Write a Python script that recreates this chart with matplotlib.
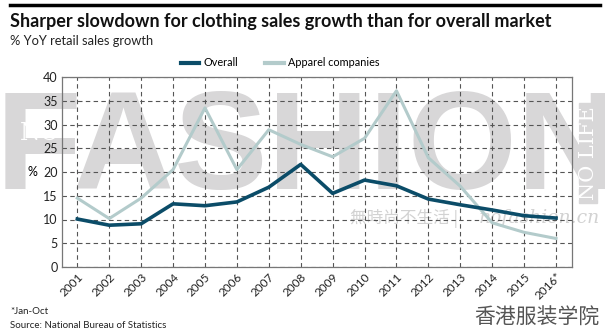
import matplotlib
matplotlib.use("Agg")
import matplotlib.pyplot as plt
from matplotlib.lines import Line2D
from matplotlib.patches import Rectangle

years = list(range(2001, 2017))
year_labels = [str(y) for y in years[:-1]] + ["2016*"]
overall = [10.1, 8.8, 9.1, 13.3, 12.9, 13.7, 16.8, 21.6, 15.5, 18.3,
           17.1, 14.3, 13.1, 12.0, 10.8, 10.3]
apparel = [14.5, 10.2, 14.5, 20.5, 33.5, 20.5, 28.9, 25.8, 23.2, 27.1,
           37.1, 23.0, 17.0, 9.3, 7.3, 6.0]

C_OVERALL = "#0b4c68"
C_APPAREL = "#b3cbcb"
WM = "#d8d7d8"

plt.rcParams["font.family"] = ["Lato", "DejaVu Sans"]

fig = plt.figure(figsize=(6.05, 3.36), dpi=100)
W, H = 605, 336

# watermark behind the chart
fig.text(-4 / W, 1 - 153 / H, "FASHION", fontsize=101, fontweight="bold",
         family=["Liberation Sans Narrow", "Liberation Sans"],
         color=WM, va="center", ha="left", zorder=0)
fig.text(20 / W, 1 - 134 / H, "NO", fontsize=17, family="DejaVu Serif",
         color="white", va="center", zorder=0.5)
fig.add_artist(Rectangle((579 / W, 1 - 203 / H), 18 / W, 100 / H,
                         transform=fig.transFigure, color=WM, zorder=0))
fig.text(588 / W, 1 - 153 / H, "NO LIFE", fontsize=15, family="DejaVu Serif",
         color="white", rotation=90, va="center", ha="center", zorder=0.5)
fig.text(462 / W, 1 - 219 / H, "無時尚不生活 | ", fontsize=12,
         family=["Noto Sans CJK SC", "DejaVu Sans"], color="#d2d2d2",
         va="center", ha="right", zorder=0)
fig.text(600 / W, 1 - 218 / H, "nofashion.cn", fontsize=13.5, family="DejaVu Serif",
         style="italic", color="#d2d2d2", va="center", ha="right", zorder=0)

ax = fig.add_axes([62 / W, 1 - 267 / H, (572 - 62) / W, (267 - 77) / H])
ax.set_zorder(2)
ax.set_facecolor("none")
ax.plot(years, apparel, color=C_APPAREL, lw=2.2, zorder=3)
ax.plot(years, overall, color=C_OVERALL, lw=2.6, zorder=4)

ax.set_xlim(2000.52, 2016.5)
ax.set_ylim(0, 40)
ax.set_yticks(range(0, 41, 5))
ax.set_xticks(years)
ax.set_xticklabels(year_labels, rotation=45, ha="right", rotation_mode="anchor",
                   fontsize=8.5, color="#222222")
ax.tick_params(axis="y", labelsize=9, colors="#222222", length=0, pad=3)
ax.tick_params(axis="x", length=0, pad=3)
ax.grid(True, color="#555555", ls=(0, (4, 3)), lw=0.8)
for s in ax.spines.values():
    s.set_color("#777777")
    s.set_linewidth(0.9)
ax.set_ylabel("%", rotation=0, fontsize=9, labelpad=8, va="center")

handles = [Line2D([0], [0], color=C_OVERALL, lw=3),
           Line2D([0], [0], color=C_APPAREL, lw=3)]
leg = fig.legend(handles, ["Overall", "Apparel companies"], loc="center",
                 bbox_to_anchor=(280 / W, 1 - 63 / H), ncol=2, frameon=False,
                 fontsize=7.8, handlelength=1.7, columnspacing=2.5, handletextpad=0.4)
leg.set_zorder(3)

# header
fig.add_artist(Line2D([10 / W, 600 / W], [1 - 5 / H, 1 - 5 / H], color="black", lw=2.5))
fig.text(10 / W, 1 - 21 / H, "Sharper slowdown for clothing sales growth than for overall market",
         fontsize=13, fontweight="bold", va="center", color="#111111")
fig.text(10 / W, 1 - 41 / H, "% YoY retail sales growth", fontsize=9.3, va="center",
         color="#222222")

# footer
fig.text(10 / W, 1 - 312 / H, "*Jan-Oct", fontsize=7, va="center", color="#222222")
fig.text(10 / W, 1 - 325 / H, "Source: National Bureau of Statistics", fontsize=7,
         va="center", color="#222222")
fig.text(600 / W, 1 - 318 / H, "香港服装学院", fontsize=15,
         family=["Noto Sans CJK SC", "DejaVu Sans"], color="#555555",
         va="center", ha="right")

fig.savefig("out.png", dpi=100)
